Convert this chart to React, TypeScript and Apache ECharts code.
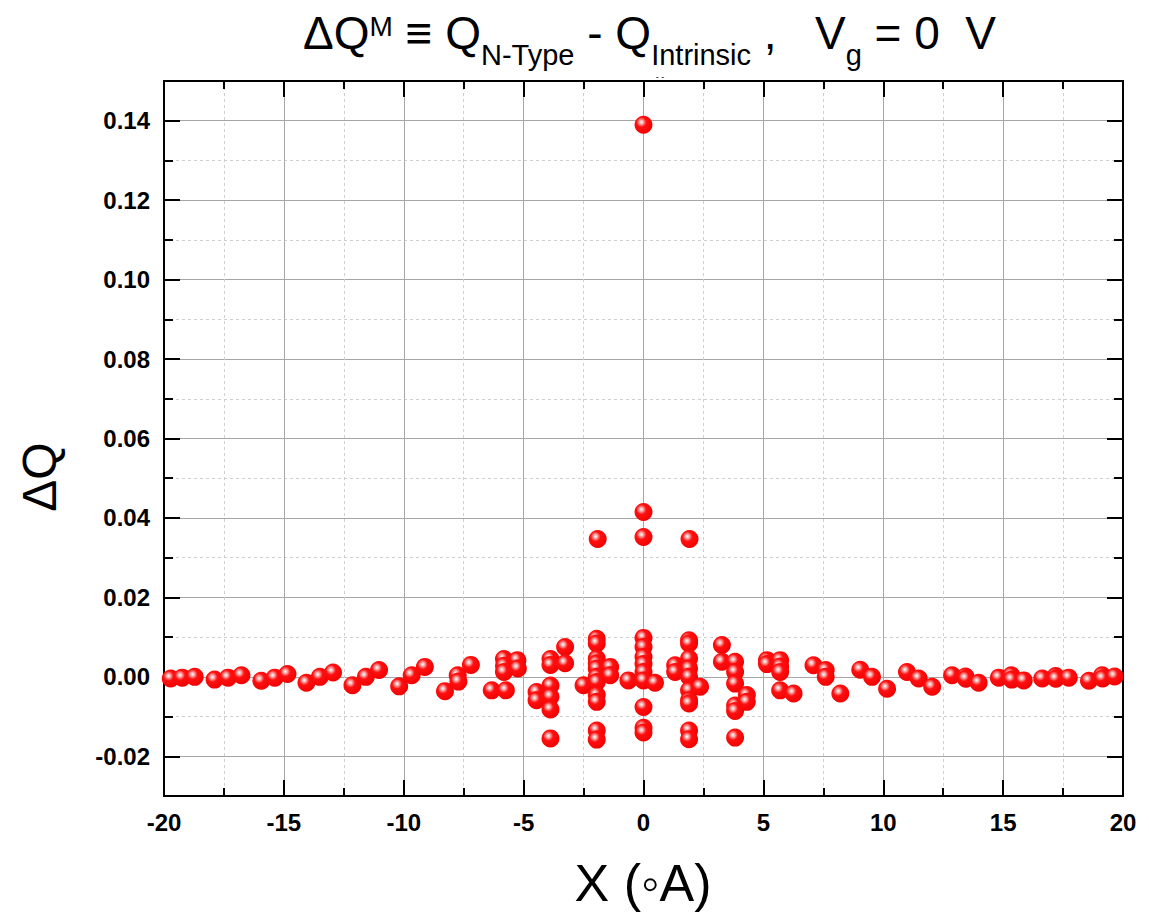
import React, { useEffect, useRef } from "react";
import * as echarts from "echarts";

const FONT = "'Liberation Sans', Arial, Helvetica, sans-serif";

// Data points [x (Å), ΔQ]
const leftTail: [number, number][] = [
  [-19.72, -0.0004], [-19.24, -0.0002], [-18.72, 0.0], [-17.89, -0.0007], [-17.33, -0.0002],
  [-16.77, 0.0004], [-15.94, -0.001], [-15.38, -0.0002], [-14.85, 0.0007], [-14.06, -0.0015],
  [-13.5, 0.0], [-12.95, 0.0011], [-12.14, -0.0021], [-11.58, 0.0], [-11.03, 0.0017],
  [-10.19, -0.0024], [-9.67, 0.0004], [-9.12, 0.0025], [-8.28, -0.0036], [-7.75, 0.0004],
  [-7.72, -0.0012], [-7.2, 0.003],
];

const centerLeft: [number, number][] = [
  [-6.33, -0.0034], [-5.82, 0.0045], [-5.82, 0.0028], [-5.82, 0.0012], [-5.74, -0.0034],
  [-5.26, 0.0042], [-5.24, 0.0021], [-4.46, -0.0038], [-4.46, -0.0059],
  [-3.88, 0.0045], [-3.88, 0.003], [-3.88, -0.0022], [-3.88, -0.005], [-3.88, -0.0082], [-3.88, -0.0155],
  [-3.27, 0.0075], [-3.27, 0.0034], [-2.5, -0.0021],
  [-1.95, 0.0096], [-1.95, 0.0084], [-1.95, 0.0046], [-1.95, 0.0034], [-1.95, 0.0021], [-1.95, 0.0],
  [-1.95, -0.0013], [-1.95, -0.0046], [-1.95, -0.0063], [-1.95, -0.0135], [-1.95, -0.0158],
  [-1.39, 0.0025], [-1.39, 0.0004], [-0.63, -0.0009],
];

const centerColumn: [number, number][] = [
  [0, 0.0098], [0, 0.0075], [0, 0.005], [0, 0.0032], [0, 0.0012], [0, -0.0009],
  [0, -0.0076], [0, -0.0128], [0, -0.014], [0, 0.0352], [0, 0.0415], [0, 0.139],
  [-1.91, 0.0347], [1.92, 0.0347],
];

const centerRight: [number, number][] = [
  [0.48, -0.0015], [1.32, 0.0029], [1.32, 0.0012],
  [1.9, 0.0092], [1.9, 0.0084], [1.9, 0.0046], [1.9, 0.0021], [1.9, 0.0], [1.9, -0.0034],
  [1.9, -0.0059], [1.9, -0.0067], [1.9, -0.0135], [1.9, -0.0157],
  [2.36, -0.0025], [3.27, 0.008], [3.27, 0.0038],
  [3.82, 0.0038], [3.82, 0.0012], [3.82, -0.0017], [3.82, -0.0072], [3.82, -0.0086], [3.82, -0.0153],
  [4.31, -0.0046], [4.31, -0.0063], [5.15, 0.0042], [5.15, 0.0032],
  [5.7, 0.0042], [5.7, 0.0026], [5.7, 0.0012], [5.7, -0.0034], [6.26, -0.0042],
  [7.09, 0.0029], [7.6, 0.0017], [7.6, 0.0], [8.21, -0.0042],
];

const rightTail: [number, number][] = [
  [9.04, 0.0018], [9.53, 0.0], [10.16, -0.003], [10.99, 0.0012], [11.48, -0.0004],
  [12.04, -0.0025], [12.87, 0.0004], [13.43, 0.0001], [13.45, -0.0005], [13.98, -0.0015],
  [14.82, -0.0002], [15.34, 0.0004], [15.36, -0.0007], [15.86, -0.0009], [16.63, -0.0004],
  [17.19, 0.0002], [17.2, -0.0005], [17.74, -0.0002], [18.58, -0.001], [19.13, 0.0004],
  [19.15, -0.0004], [19.65, 0.0001],
];

const yMajorTicks = [-0.02, 0, 0.02, 0.04, 0.06, 0.08, 0.1, 0.12, 0.14];
const yMinorTicks = [-0.01, 0.01, 0.03, 0.05, 0.07, 0.09, 0.11, 0.13];

const titleText =
  "{m|ΔQ}{sup|M}{m| ≡ Q}{sub|N-Type}{m| - Q}{sub|Intrinsic}{m| ,   V}{sub|g}{m| = 0  V}";
const yAxisTitle = "ΔQ";
const xAxisTitle = "X (◦A)";

export default function App() {
  const ref = useRef<HTMLDivElement>(null);

  useEffect(() => {
    document.body.style.margin = "0";
    if (!ref.current) return;
    const chart = echarts.init(ref.current, null, { renderer: "svg" });

    const ball = {
      type: "radial",
      x: 0.38,
      y: 0.36,
      r: 0.68,
      colorStops: [
        { offset: 0, color: "#ffffff" },
        { offset: 0.15, color: "#ffb0b0" },
        { offset: 0.4, color: "#ff1010" },
        { offset: 1, color: "#f00000" },
      ],
    };

    const frameLine = { show: true, onZero: false, lineStyle: { color: "#000", width: 2 } };
    const majorGrid = { show: true, lineStyle: { color: "#a6a6a6", width: 1, type: "solid" } };
    const minorGrid = { show: true, lineStyle: { color: "#cfcfcf", width: 1, type: [3, 3] } };

    const yBase = { type: "value", min: -0.03, max: 0.15, interval: 0.01 };
    const txt = { fontFamily: FONT, color: "#000", fontWeight: "normal", verticalAlign: "top" };

    const option: any = {
      animation: false,
      backgroundColor: "#ffffff",
      title: {
        left: 298,
        top: 5,
        text: titleText,
        textStyle: {
          fontWeight: "normal",
          rich: {
            m: { ...txt, fontSize: 46, lineHeight: 46 },
            sup: { ...txt, fontSize: 28, lineHeight: 28, padding: [2, 0, 0, 0] },
            sub: { ...txt, fontSize: 29, lineHeight: 29, padding: [30, 0, 0, 0] },
          },
        },
      },
      grid: { left: 164, right: 26, top: 81, bottom: 119, outerBoundsMode: "none", containLabel: false },
      xAxis: [
        {
          type: "value",
          position: "bottom",
          min: -20,
          max: 20,
          interval: 5,
          axisLine: frameLine,
          axisTick: { show: true, inside: true, length: 16, lineStyle: { color: "#000", width: 2 } },
          minorTick: { show: true, splitNumber: 2, length: 8, lineStyle: { color: "#000", width: 2 } },
          axisLabel: { show: true, margin: 14, fontSize: 24, fontWeight: "bold", fontFamily: FONT, color: "#000" },
          splitLine: majorGrid,
          minorSplitLine: minorGrid,
        },
        {
          type: "value",
          position: "top",
          min: -20,
          max: 20,
          interval: 5,
          axisLine: frameLine,
          axisTick: { show: true, inside: true, length: 16, lineStyle: { color: "#000", width: 2 } },
          minorTick: { show: true, splitNumber: 2, length: 8, lineStyle: { color: "#000", width: 2 } },
          axisLabel: { show: false },
          splitLine: { show: false },
        },
      ],
      yAxis: [
        {
          ...yBase,
          position: "left",
          axisLine: frameLine,
          axisTick: { show: true, inside: true, length: 16, customValues: yMajorTicks, lineStyle: { color: "#000", width: 2 } },
          axisLabel: {
            show: true,
            customValues: yMajorTicks,
            margin: 14,
            fontSize: 24,
            fontWeight: "bold",
            fontFamily: FONT,
            color: "#000",
            formatter: (v: number) => v.toFixed(2),
          },
          splitLine: majorGrid,
        },
        {
          ...yBase,
          position: "left",
          axisLine: frameLine,
          axisTick: { show: true, inside: true, length: 9, customValues: yMinorTicks, lineStyle: { color: "#000", width: 2 } },
          axisLabel: { show: false },
          splitLine: minorGrid,
        },
        {
          ...yBase,
          position: "right",
          axisLine: frameLine,
          axisTick: { show: true, inside: true, length: 16, customValues: yMajorTicks, lineStyle: { color: "#000", width: 2 } },
          axisLabel: { show: false },
          splitLine: { show: false },
        },
        {
          ...yBase,
          position: "right",
          axisLine: frameLine,
          axisTick: { show: true, inside: true, length: 9, customValues: yMinorTicks, lineStyle: { color: "#000", width: 2 } },
          axisLabel: { show: false },
          splitLine: { show: false },
        },
      ],
      graphic: [
        {
          type: "text",
          x: 39,
          y: 477,
          rotation: Math.PI / 2,
          style: {
            text: yAxisTitle,
            fontSize: 48,
            fontFamily: FONT,
            fill: "#000",
            align: "center",
            verticalAlign: "middle",
            textAlign: "center",
            textVerticalAlign: "middle",
          },
        },
        {
          type: "text",
          x: 643,
          y: 883,
          style: {
            text: xAxisTitle,
            fontSize: 52,
            fontFamily: FONT,
            fill: "#000",
            align: "center",
            verticalAlign: "middle",
            textAlign: "center",
            textVerticalAlign: "middle",
          },
        },
        {
          type: "text",
          x: 660,
          y: 77,
          style: {
            text: "- -",
            fontSize: 9,
            fontFamily: FONT,
            fill: "#000",
            align: "center",
            verticalAlign: "middle",
            textAlign: "center",
            textVerticalAlign: "middle",
          },
        },
      ],
      series: [
        {
          type: "scatter",
          xAxisIndex: 0,
          yAxisIndex: 0,
          symbol: "circle",
          symbolSize: 18,
          itemStyle: { color: ball, opacity: 1 },
          data: [...leftTail, ...centerLeft, ...centerColumn, ...centerRight, ...rightTail],
          z: 5,
        },
      ],
    };

    chart.setOption(option);
    return () => chart.dispose();
  }, []);

  return <div ref={ref} style={{ width: 1149, height: 915 }} />;
}
